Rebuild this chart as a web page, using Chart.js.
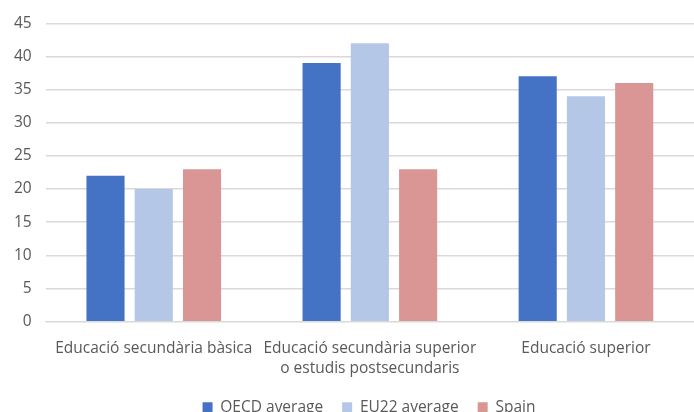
<!DOCTYPE html>
<html>
<head>
<meta charset="utf-8">
<script src="https://cdn.jsdelivr.net/npm/chart.js@4"></script>
<style>
  html, body { margin: 0; padding: 0; background: #fff; overflow: hidden; }
  #wrap { width: 694px; height: 424px; position: relative; }
</style>
</head>
<body>
<div id="wrap"><canvas id="myChart"></canvas></div>
<script>
var categories = ['Educació secundària bàsica', ['Educació secundària superior', 'o estudis postsecundaris'], 'Educació superior'];
var seriesNames = ['OECD average', 'EU22 average', 'Spain'];
var oecd = [22, 39, 37];
var eu22 = [20, 42, 34];
var spain = [23, 23, 36];
var yTicks = [0, 5, 10, 15, 20, 25, 30, 35, 40, 45];

var colors = ['#4472C4', '#B4C7E7', '#DA9694'];
var font = { family: 'Open Sans', size: 15.5, lineHeight: 1.35 };

// wider gaps between legend items without making the legend taller,
// and nudge it a bit to the right like the original
var legendTweak = {
    id: 'legendTweak',
    beforeInit: function (chart) {
        var fit = chart.legend.fit;
        chart.legend.fit = function () {
            fit.call(this);
            this.height -= 8;
        };
    },
    afterLayout: function (chart) {
        chart.legend.top -= 7;
        chart.legend.bottom -= 7;
        chart.legend.left += 22;
        chart.legend.right += 22;
    }
};

const ctx = document.getElementById('myChart');

new Chart(ctx, {
    type: 'bar',
    data: {
        labels: categories,
        datasets: [oecd, eu22, spain].map(function (vals, i) {
            return {
                label: seriesNames[i],
                data: vals,
                backgroundColor: colors[i],
                borderWidth: 0,
                barPercentage: 0.79,
                categoryPercentage: 0.67
            };
        })
    },
    options: {
        responsive: true,
        maintainAspectRatio: false,
        animation: false,
        layout: { padding: { top: 7, left: 0, right: 0, bottom: 0 } },
        plugins: {
            tooltip: { enabled: false },
            legend: {
                position: 'bottom',
                labels: {
                    color: '#595959',
                    font: { family: 'Open Sans', size: 15.5 },
                    boxWidth: 10,
                    boxHeight: 10,
                    padding: 19
                }
            }
        },
        scales: {
            x: {
                grid: { display: false },
                border: { color: '#d9d9d9' },
                ticks: { color: '#595959', font: font, maxRotation: 0, autoSkip: false, padding: 8 }
            },
            y: {
                min: 0,
                max: 45,
                afterBuildTicks: function (axis) {
                    axis.ticks = yTicks.map(function (v) { return { value: v }; });
                },
                grid: { color: '#d9d9d9', lineWidth: 1.5, drawTicks: false },
                border: { display: false },
                ticks: { color: '#595959', font: { family: 'Open Sans', size: 15.5 }, padding: 14 }
            }
        }
    },
    plugins: [legendTweak]
});
</script>
</body>
</html>
